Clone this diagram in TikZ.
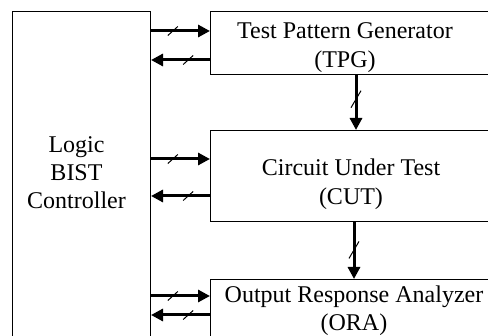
\documentclass[tikz,border=0pt]{standalone}
\usepackage{fontspec}
\setmainfont{Liberation Serif}
\usetikzlibrary{arrows.meta,positioning,decorations.markings}

\tikzset{
  blk/.style={draw, line width=.5pt, inner sep=0pt, anchor=north west},
  txt/.style={inner sep=0pt, align=center,
    font=\fontsize{12pt}{14.5pt}\selectfont},
  bus/.style={line width=1.5pt, -{Triangle[length=6pt,width=6pt]},
    postaction={decorate}, decoration={markings, mark=at position #1 with
      {\pgftransformresetnontranslations
       \draw[-, line width=.5pt] (-2.5pt,-2.25pt) -- (2.5pt,2.25pt);}}},
  bus/.default=.37,
  vbus/.style={line width=1.5pt, -{Triangle[length=6pt,width=6pt]},
    postaction={decorate}, decoration={markings, mark=at position #1 with
      {\pgftransformresetnontranslations
       \draw[-, line width=.5pt] (-2.5pt,-4.25pt) -- (2.5pt,4.25pt);}}},
  vbus/.default=.47
}

\begin{document}
\begin{tikzpicture}[x=.5pt,y=-.5pt]
  \path[use as bounding box, fill=white] (0,0) rectangle (488,336);
  \clip (0,0) rectangle (488,336);

  % blocks
  \node[blk, minimum width=69pt, minimum height=164.5pt] (ctrl) at (12,11) {};
  \node[blk, minimum width=140.5pt, minimum height=31.5pt,
    right=29.5pt of ctrl.north east, anchor=north west] (tpg) {};
  \node[blk, minimum width=140.5pt, minimum height=45.5pt,
    below=27.5pt of tpg.south west, anchor=north west] (cut) {};
  \node[blk, minimum width=140.5pt, minimum height=32.5pt,
    below=28.5pt of cut.south west, anchor=north west] (ora) {};

  % block texts
  \node[txt, font=\fontsize{12pt}{14pt}\selectfont,
    below=62.5pt of ctrl.north, xshift=-2.5pt] (ctrl-t) {Logic\\BIST\\Controller};
  \node[txt, below=5.5pt of tpg.north, xshift=-3pt] (tpg-t)
    {Test Pattern Generator\\(TPG)};
  \node[txt, below=14pt of cut.north] (cut-t) {Circuit Under Test\\(CUT)};
  \node[txt, font=\fontsize{12pt}{14pt}\selectfont,
    below=3pt of ora.north, xshift=1.5pt] (ora-t)
    {Output Response Analyzer\\(ORA)};

  % controller <-> blocks
  \draw[bus] (ctrl.east |- 0,31) -- (tpg.west |- 0,31);
  \draw[bus] (tpg.west |- 0,60) -- (ctrl.east |- 0,60);
  \draw[bus] (ctrl.east |- 0,159) -- (cut.west |- 0,159);
  \draw[bus] (cut.west |- 0,196) -- (ctrl.east |- 0,196);
  \draw[bus] (ctrl.east |- 0,296) -- (ora.west |- 0,296);
  \draw[bus] (ora.west |- 0,315) -- (ctrl.east |- 0,315);

  % data path
  \draw[vbus=.44] (356,0 |- tpg.south) -- (356,0 |- cut.north);
  \draw[vbus=.49] (354,0 |- cut.south) -- (354,0 |- ora.north);
\end{tikzpicture}
\end{document}
